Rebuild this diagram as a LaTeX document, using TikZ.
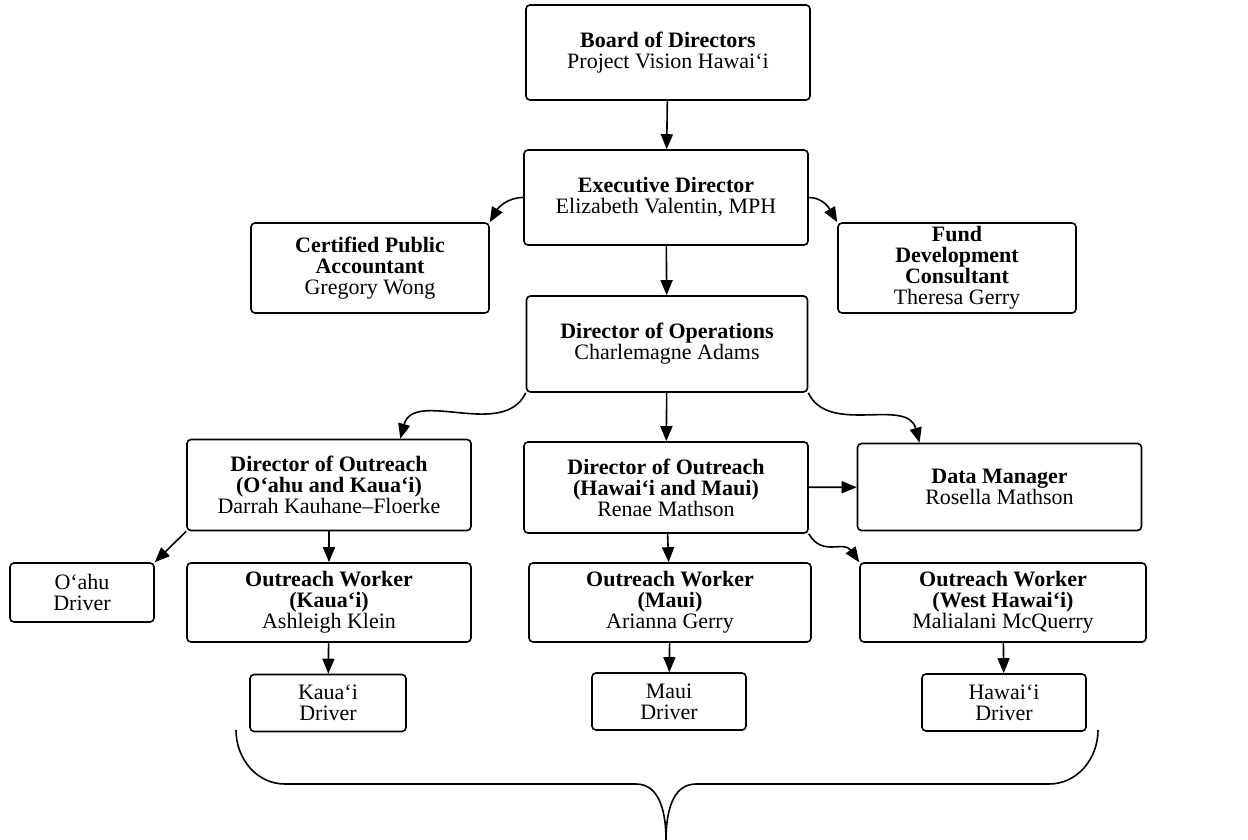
\documentclass[tikz,border=0pt]{standalone}
\usepackage{fontspec}
\setmainfont{Liberation Serif}
\usetikzlibrary{arrows.meta}
\begin{document}
\begin{tikzpicture}[x=0.5pt, y=-0.5pt, thick, >={Triangle[length=7.5pt,width=6pt]},
    main/.style = {draw, rounded corners=2pt, align=center, inner sep=1pt, font=\fontsize{11}{10.5}\selectfont},
    big/.style = {main, minimum width=142pt, minimum height=47.5pt},
    dir/.style = {main, minimum width=142pt, minimum height=45.5pt},
    side/.style = {main, minimum width=119pt, minimum height=45pt},
    worker/.style = {main, minimum width=142pt, minimum height=39.5pt},
    driver/.style = {main, minimum width=78pt, minimum height=28.5pt}]
    \useasboundingbox (0,0) rectangle (1248,840);
    \node[big] (1) at (668,52.5) {\textbf{Board of Directors}\\Project Vision Hawai‘i};
    \node[big] (2) at (666,197.5) {\textbf{Executive Director}\\Elizabeth Valentin, MPH};
    \node[side] (3) at (370,268) {\textbf{Certified Public}\\\textbf{Accountant}\\Gregory Wong};
    \node[side] (4) at (957,268) {\textbf{Fund}\\\textbf{Development}\\\textbf{Consultant}\\Theresa Gerry};
    \node[big, minimum width=140.5pt, minimum height=48pt] (5) at (667,344) {\textbf{Director of Operations}\\Charlemagne Adams};
    \node[dir] (6) at (329,485) {\textbf{Director of Outreach}\\\textbf{(O‘ahu and Kaua‘i)}\\Darrah Kauhane–Floerke};
    \node[dir] (7) at (666,487.5) {\textbf{Director of Outreach}\\\textbf{(Hawai‘i and Maui)}\\Renae Mathson};
    \node[dir, minimum height=43.5pt] (8) at (999.5,487) {\textbf{Data Manager}\\Rosella Mathson};
    \node[driver, minimum width=72pt, minimum height=29.5pt] (9) at (82,592.5) {O‘ahu\\Driver};
    \node[worker] (10) at (329,602.5) {\textbf{Outreach Worker}\\\textbf{(Kaua‘i)}\\Ashleigh Klein};
    \node[worker, minimum width=141pt] (11) at (670,602.5) {\textbf{Outreach Worker}\\\textbf{(Maui)}\\Arianna Gerry};
    \node[worker, minimum width=143pt] (12) at (1003,602.5) {\textbf{Outreach Worker}\\\textbf{(West Hawai‘i)}\\Malialani McQuerry};
    \node[driver] (13) at (328,703) {Kaua‘i\\Driver};
    \node[driver, minimum width=77pt] (14) at (669,701.5) {Maui\\Driver};
    \node[driver, minimum width=82pt] (15) at (1004,702.5) {Hawai‘i\\Driver};
    \draw[->] (1) to (2);
    \draw[->] (2.west) to [out=180,in=60] (3.north east);
    \draw[->] (2.east) to [out=0,in=120] (4.north west);
    \draw[->] (2) to (5);
    \draw[->] (5.south west) to [out=245,in=75] (6.33);
    \draw[->] (5) to (7);
    \draw[->] (5.south east) to [out=-65,in=105] (8.151);
    \draw[->] (7) to (8);
    \draw[->] (6.south west) to (9.north east);
    \draw[->] (6) to (10);
    \draw[->] (7) to (11);
    \draw[->] (7.south east) to [out=-60,in=125,looseness=1.2] (12.north west);
    \draw[->] (10) to (13);
    \draw[->] (11) to (14);
    \draw[->] (12) to (15);
    \draw (236,730) to [out=-90,in=180] (285,784) -- (636,784) to [out=0,in=90] (666,840);
    \draw (1098,730) to [out=-90,in=0] (1049,784) -- (696,784) to [out=180,in=90] (666,840);
\end{tikzpicture}
\end{document}
